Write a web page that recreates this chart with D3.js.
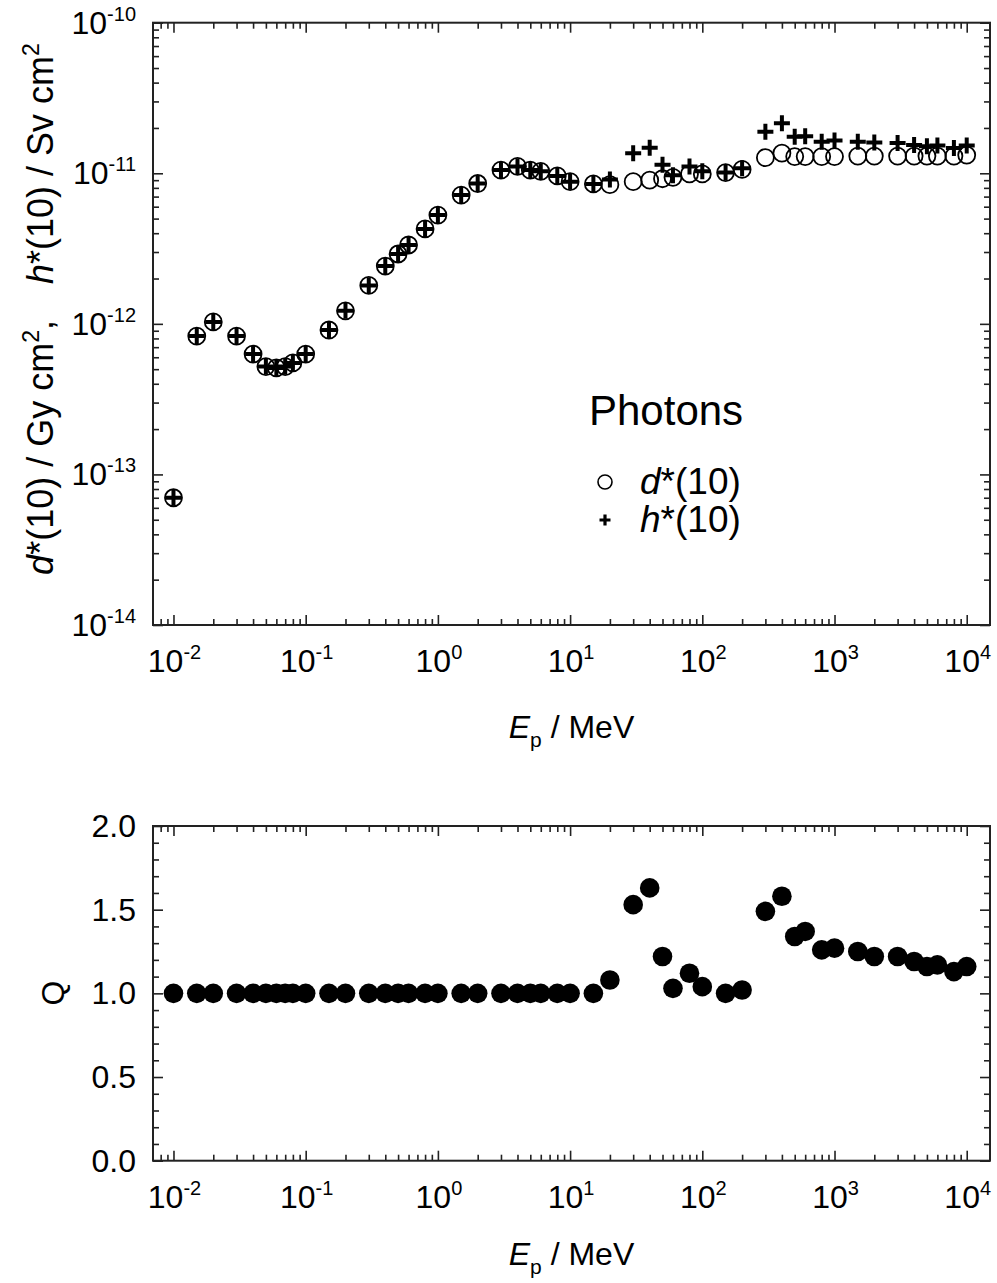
<!DOCTYPE html>
<html>
<head>
<meta charset="utf-8">
<script src="https://cdn.jsdelivr.net/npm/d3@7"></script>
<style>
  body { margin: 0; background: #fff; }
  svg text { font-family: "Liberation Sans", Arial, sans-serif; fill: #000; }
</style>
</head>
<body>
<div id="chart"></div>
<script>
// photon energies, MeV
const energy = [0.01, 0.015, 0.02, 0.03, 0.04, 0.05, 0.06, 0.07, 0.08, 0.1,
  0.15, 0.2, 0.3, 0.4, 0.5, 0.6, 0.8, 1, 1.5, 2, 3, 4, 5, 6, 8, 10,
  15, 20, 30, 40, 50, 60, 80, 100, 150, 200, 300, 400, 500, 600, 800, 1000,
  1500, 2000, 3000, 4000, 5000, 6000, 8000, 10000];

// d*(10) in pGy cm2
const dStar = [0.070, 0.83, 1.03, 0.83, 0.63, 0.52, 0.51, 0.52, 0.55, 0.63,
  0.91, 1.22, 1.80, 2.42, 2.91, 3.34, 4.27, 5.28, 7.17, 8.55, 10.5, 11.1, 10.5, 10.3, 9.6, 8.8,
  8.5, 8.4, 8.8, 9.0, 9.2, 9.4, 9.9, 9.9, 10.1, 10.6, 12.7, 13.6, 12.9, 12.9, 12.9, 12.9,
  13.0, 13.0, 13.0, 13.0, 13.0, 13.0, 13.0, 13.2];

// h*(10) in pSv cm2
const hStar = [0.070, 0.83, 1.03, 0.83, 0.63, 0.52, 0.51, 0.52, 0.55, 0.63,
  0.91, 1.22, 1.80, 2.42, 2.91, 3.34, 4.27, 5.28, 7.17, 8.55, 10.5, 11.1, 10.5, 10.3, 9.6, 8.8,
  8.5, 9.1, 13.6, 14.8, 11.4, 9.7, 11.1, 10.3, 10.1, 10.8, 18.9, 21.5, 17.5, 17.6, 16.2, 16.5,
  16.2, 16.0, 15.9, 15.4, 15.1, 15.3, 14.7, 15.3];

// quality factor Q
const qFactor = [1.0, 1.0, 1.0, 1.0, 1.0, 1.0, 1.0, 1.0, 1.0, 1.0,
  1.0, 1.0, 1.0, 1.0, 1.0, 1.0, 1.0, 1.0, 1.0, 1.0, 1.0, 1.0, 1.0, 1.0, 1.0, 1.0,
  1.0, 1.08, 1.53, 1.63, 1.22, 1.03, 1.12, 1.04, 1.00, 1.02, 1.49, 1.58, 1.34, 1.37, 1.26, 1.27,
  1.25, 1.22, 1.22, 1.19, 1.16, 1.17, 1.13, 1.16];

const xDecades = [-2, -1, 0, 1, 2, 3, 4];
const yDecades = [-14, -13, -12, -11, -10];
const qTicks = [0.0, 0.5, 1.0, 1.5, 2.0];

const W = 997, H = 1283;
const L = 153, R = 990;

const svg = d3.select('#chart').append('svg')
  .attr('width', W).attr('height', H);
svg.append('rect').attr('width', W).attr('height', H).attr('fill', '#fff');

const x = d3.scaleLog().domain([0.007, 15000]).range([L, R]);
const yTop = d3.scaleLog().domain([1e-14, 1e-10]).range([625, 22.7]);
const yBot = d3.scaleLinear().domain([0, 2]).range([1160.7, 826]);

function minorLog(lo, hi, dom) {
  const out = [];
  for (let e = lo; e <= hi; e++) {
    for (let m = 2; m <= 9; m++) {
      const v = m * Math.pow(10, e);
      if (v > dom[0] && v < dom[1]) out.push(v);
    }
  }
  return out;
}

function tickAxis(g, axis, tr) {
  const a = g.append('g').attr('transform', tr).call(axis);
  a.select('.domain').remove();
  a.selectAll('line').attr('stroke', '#222').attr('stroke-width', 1.6);
  a.selectAll('text').remove();
}

function frame(y, yMajor, yMinor) {
  const g = svg.append('g');
  const [y0, y1] = y.range();
  const xMajor = xDecades.map(d => Math.pow(10, d));
  const xMinor = minorLog(-3, 4, x.domain());

  tickAxis(g, d3.axisBottom(x).tickValues(xMajor).tickSize(-10), `translate(0,${y0})`);
  tickAxis(g, d3.axisBottom(x).tickValues(xMinor).tickSize(-6), `translate(0,${y0})`);
  tickAxis(g, d3.axisTop(x).tickValues(xMajor).tickSize(-10), `translate(0,${y1})`);
  tickAxis(g, d3.axisTop(x).tickValues(xMinor).tickSize(-6), `translate(0,${y1})`);

  tickAxis(g, d3.axisLeft(y).tickValues(yMajor).tickSize(-10), `translate(${L},0)`);
  tickAxis(g, d3.axisLeft(y).tickValues(yMinor).tickSize(-6), `translate(${L},0)`);
  tickAxis(g, d3.axisRight(y).tickValues(yMajor).tickSize(-10), `translate(${R},0)`);
  tickAxis(g, d3.axisRight(y).tickValues(yMinor).tickSize(-6), `translate(${R},0)`);

  g.append('rect')
    .attr('x', L).attr('y', y1)
    .attr('width', R - L).attr('height', y0 - y1)
    .attr('fill', 'none').attr('stroke', '#222').attr('stroke-width', 2);

  // x tick labels, 10^n
  const lab = g.append('g').selectAll('text').data(xDecades).enter().append('text')
    .attr('x', d => x(Math.pow(10, d)) + 1)
    .attr('y', y0 + 47)
    .attr('text-anchor', 'middle')
    .style('font-size', '32px');
  lab.append('tspan').text('10');
  lab.append('tspan').attr('dy', -13).style('font-size', '20px').text(d => d);
  return g;
}

function xTitle(yPos) {
  const t = svg.append('text')
    .attr('x', (L + R) / 2).attr('y', yPos)
    .attr('text-anchor', 'middle')
    .style('font-size', '32px');
  t.append('tspan').style('font-style', 'italic').text('E');
  t.append('tspan').attr('dy', 9).style('font-size', '21px').text('p');
  t.append('tspan').attr('dy', -9).text(' / MeV');
}

// ---- top panel ----
const g1 = frame(yTop, yDecades.map(d => Math.pow(10, d)), minorLog(-14, -11, yTop.domain()));

const yl = g1.append('g').selectAll('text').data(yDecades).enter().append('text')
  .attr('x', 136)
  .attr('y', d => yTop(Math.pow(10, d)) + 11)
  .attr('text-anchor', 'end')
  .style('font-size', '32px');
yl.append('tspan').text('10');
yl.append('tspan').attr('dy', -13).style('font-size', '20px').text(d => d);

xTitle(738);

const yt = svg.append('text')
  .attr('transform', 'translate(53,309) rotate(-90)')
  .attr('text-anchor', 'middle')
  .style('font-size', '36px');
yt.append('tspan').style('font-style', 'italic').text('d');
yt.append('tspan').text('*(10) / Gy cm');
yt.append('tspan').attr('dy', -14).style('font-size', '23px').text('2');
yt.append('tspan').attr('dy', 14).text(',\u2002\u2002');
yt.append('tspan').style('font-style', 'italic').text('h');
yt.append('tspan').text('*(10) / Sv cm');
yt.append('tspan').attr('dy', -14).style('font-size', '23px').text('2');

const pts = energy.map((e, i) => ({ e, d: dStar[i] * 1e-12, h: hStar[i] * 1e-12, q: qFactor[i] }));

g1.append('g').selectAll('circle').data(pts).enter().append('circle')
  .attr('cx', d => x(d.e))
  .attr('cy', d => yTop(d.d))
  .attr('r', 8.5)
  .attr('fill', 'none')
  .attr('stroke', '#000')
  .attr('stroke-width', 1.8);

const plus = (s) => `M${-s},0H${s}M0,${-s}V${s}`;
g1.append('g').selectAll('path').data(pts).enter().append('path')
  .attr('transform', d => `translate(${x(d.e)},${yTop(d.h)})`)
  .attr('d', plus(8))
  .attr('stroke', '#000')
  .attr('stroke-width', 4);

// legend
svg.append('text').attr('x', 589).attr('y', 425).style('font-size', '42px').text('Photons');
svg.append('circle').attr('cx', 605).attr('cy', 482).attr('r', 7)
  .attr('fill', 'none').attr('stroke', '#000').attr('stroke-width', 1.6);
svg.append('path').attr('transform', 'translate(605,520)').attr('d', plus(5.5))
  .attr('stroke', '#000').attr('stroke-width', 3.2);
const l1 = svg.append('text').attr('x', 640).attr('y', 494).style('font-size', '37px');
l1.append('tspan').style('font-style', 'italic').text('d');
l1.append('tspan').text('*(10)');
const l2 = svg.append('text').attr('x', 640).attr('y', 532).style('font-size', '37px');
l2.append('tspan').style('font-style', 'italic').text('h');
l2.append('tspan').text('*(10)');

// ---- bottom panel ----
const g2 = frame(yBot, qTicks, d3.range(0.1, 2, 0.1).filter(v => Math.abs(v * 2 - Math.round(v * 2)) > 1e-6));

g2.append('g').selectAll('text').data(qTicks).enter().append('text')
  .attr('x', 136)
  .attr('y', d => yBot(d) + 11)
  .attr('text-anchor', 'end')
  .style('font-size', '32px')
  .text(d => d.toFixed(1));

xTitle(1265);

svg.append('text')
  .attr('transform', 'translate(64,993) rotate(-90)')
  .attr('text-anchor', 'middle')
  .style('font-size', '32px')
  .text('Q');

g2.append('g').selectAll('circle').data(pts).enter().append('circle')
  .attr('cx', d => x(d.e))
  .attr('cy', d => yBot(d.q))
  .attr('r', 9.8)
  .attr('fill', '#000');
</script>
</body>
</html>
